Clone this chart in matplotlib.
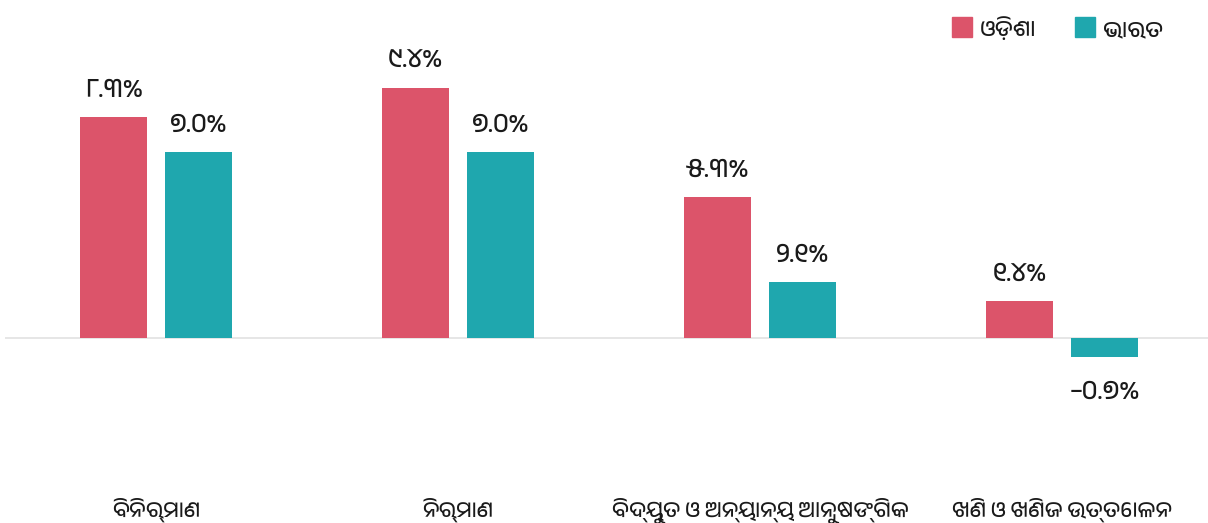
import matplotlib
matplotlib.use("Agg")
import matplotlib.pyplot as plt
import numpy as np

plt.rcParams["font.family"] = ["Anek Odia", "Noto Sans Oriya", "DejaVu Sans"]

# Sector growth rates (%), Odisha vs India
categories = ["ବିନିର୍ମାଣ", "ନିର୍ମାଣ", "ବିଦ୍ୟୁତ ଓ ଅନ୍ୟାନ୍ୟ ଆନୁଷଙ୍ଗିକ", "ଖଣି ଓ ଖଣିଜ ଉତ୍ତୋଳନ"]
odisha = [8.3, 9.4, 5.3, 1.4]
india = [7.0, 7.0, 2.1, -0.7]
series_names = ["ଓଡ଼ିଶା", "ଭାରତ"]
colors = ["#DC546A", "#1FA7AE"]

ODIA_DIGITS = str.maketrans("0123456789", "୦୧୨୩୪୫୬୭୮୯")


def odia_pct(v):
    s = f"{v:.1f}".replace("-", "−")
    return s.translate(ODIA_DIGITS) + "%"


W, H = 1208, 523
fig = plt.figure(figsize=(W / 100, H / 100), dpi=100)

# axes placed so the zero line sits at y=338 px and groups are 302 px apart
ylo, yhi = -2.5, 11.0
ppu = 26.6
ax_bottom_px = 338 + (-ylo) * ppu
ax_top_px = 338 - yhi * ppu
x_left_px, x_right_px = 5, 5 + 4 * 302
ax = fig.add_axes([x_left_px / W, 1 - ax_bottom_px / H,
                   (x_right_px - x_left_px) / W, (ax_bottom_px - ax_top_px) / H])
ax.set_xlim(-0.5, 3.5)
ax.set_ylim(ylo, yhi)

x = np.arange(len(categories))
bw = 0.225
off = 0.1407
label_kw = dict(textcoords="offset pixels", ha="center", va="baseline",
                fontsize=19, color="#1a1a1a")
for vals, c, sign, name in [(odisha, colors[0], -1, series_names[0]),
                            (india, colors[1], 1, series_names[1])]:
    ax.bar(x + sign * off, vals, width=bw, color=c, label=name, zorder=2)
    for xi, v in zip(x + sign * off, vals):
        dy = 20 if v >= 0 else -42
        ax.annotate(odia_pct(v), (xi, v), xytext=(0, dy), **label_kw)

ax.axhline(0, color="#e2e2e2", lw=1.2, zorder=1)
for s in ax.spines.values():
    s.set_visible(False)
ax.set_yticks([])
ax.set_xticks([])

# category labels along the bottom
for xi, lab in zip(x, categories):
    ax.annotate(lab, (xi, 0), xycoords=("data", "figure fraction"),
                xytext=(0, 6), textcoords="offset pixels",
                ha="center", va="baseline", fontsize=15.5, color="#1a1a1a")

# legend in the top-right corner
for i, (name, c) in enumerate(zip(series_names, colors)):
    x0 = [952, 1075][i]
    fig.patches.append(plt.Rectangle((x0 / W, 1 - 37 / H), 20 / W, 20 / H,
                                     transform=fig.transFigure, color=c))
    fig.text((x0 + 28) / W, 1 - 36 / H, name, ha="left", va="baseline",
             fontsize=16, color="#1a1a1a")

fig.savefig("out.png", dpi=100)
